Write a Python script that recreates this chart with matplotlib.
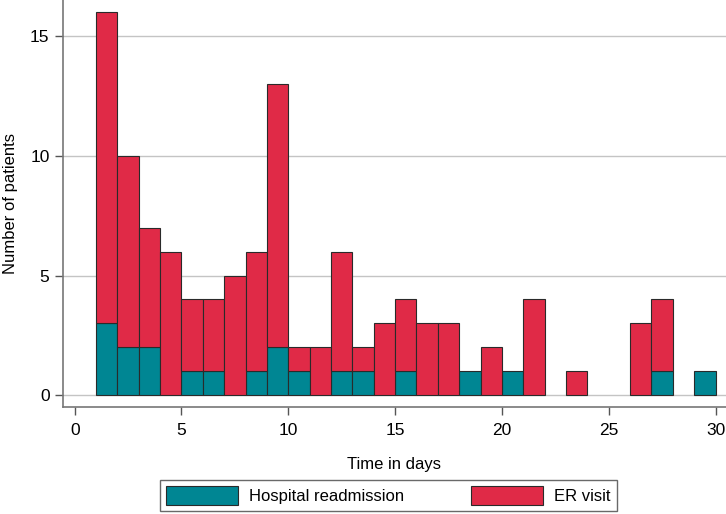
import matplotlib
matplotlib.use("Agg")
import matplotlib.pyplot as plt
from matplotlib.patches import Patch
import numpy as np

days = list(range(1, 30))
hospital = [3, 2, 2, 0, 1, 1, 0, 1, 2, 1, 0, 1, 1, 0, 1, 0, 0, 1, 0, 1, 0, 0, 0, 0, 0, 0, 1, 0, 1]
er_visit = [13, 8, 5, 6, 3, 3, 5, 5, 11, 1, 2, 5, 1, 3, 3, 3, 3, 0, 2, 0, 4, 0, 1, 0, 0, 3, 3, 0, 0]
xticks = [0, 5, 10, 15, 20, 25, 30]
yticks = [0, 5, 10, 15]

teal = "#008693"
red = "#E02A47"

plt.rcParams['font.family'] = ['Liberation Sans', 'DejaVu Sans']

fig = plt.figure(figsize=(7.26, 5.14), dpi=100)
ax = fig.add_axes([0.0864, 0.2076, 1 - 0.0864, 1 - 0.2076])

d = np.array(days)
h = np.array(hospital)
e = np.array(er_visit)
mask_h = h > 0
mask_e = e > 0
ax.bar(d[mask_h], h[mask_h], width=1.0, align='edge', color=teal,
       edgecolor='#2a2a2a', linewidth=0.8, zorder=3)
ax.bar(d[mask_e], e[mask_e], width=1.0, align='edge', bottom=h[mask_e], color=red,
       edgecolor='#2a2a2a', linewidth=0.8, zorder=3)

ax.set_xlim(-0.56, 30.49)
ax.set_ylim(-0.5, 16.5)
ax.set_xticks(xticks)
ax.set_yticks(yticks)
ax.tick_params(axis='both', colors='#555555', labelcolor='black', labelsize=12.5,
               length=6, width=1)
ax.tick_params(axis='x', pad=5)
ax.yaxis.grid(True, color='#c4c4c4', linewidth=1, zorder=0)
ax.set_axisbelow(True)
for s in ['top', 'right']:
    ax.spines[s].set_visible(False)
for s in ['left', 'bottom']:
    ax.spines[s].set_color('#777777')
    ax.spines[s].set_linewidth(1.2)

ax.set_xlabel("Time in days", fontsize=12, labelpad=14)
ax.set_ylabel("Number of patients", fontsize=12, labelpad=9)

handles = [Patch(facecolor=teal, edgecolor='#2a2a2a', linewidth=0.8, label='Hospital readmission'),
           Patch(facecolor=red, edgecolor='#2a2a2a', linewidth=0.8, label='ER visit')]
leg = fig.legend(handles=handles, ncol=2, loc='center', bbox_to_anchor=(0.535, 0.036),
                 frameon=True, fancybox=False, edgecolor='#444444', fontsize=12,
                 handlelength=4.3, handleheight=1.4, columnspacing=4.0, handletextpad=0.7,
                 borderpad=0.35)
leg.get_frame().set_linewidth(1.0)

fig.savefig("out.png", dpi=100)
